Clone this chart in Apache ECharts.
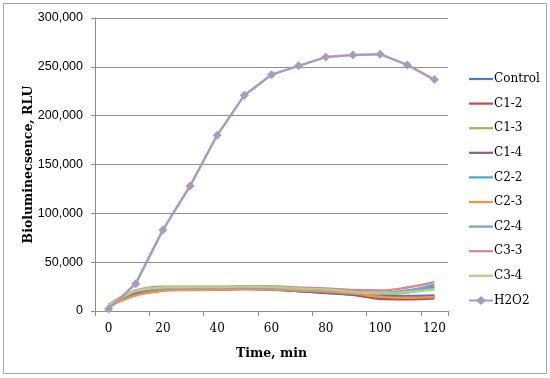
<!DOCTYPE html>
<html><head><meta charset="utf-8">
<script src="https://cdn.jsdelivr.net/npm/echarts@6/dist/echarts.min.js"></script>
<style>html,body{margin:0;padding:0;background:#fff}#c{width:550px;height:378px}</style>
</head><body><div id="c"></div>
<script>
const categories = ['0','10','20','30','40','50','60','70','80','90','100','110','120'];
const seriesNames = ['Control','C1-2','C1-3','C1-4','C2-2','C2-3','C2-4','C3-3','C3-4','H2O2'];
const colors = ['#4A7EBB','#BE4B48','#98B954','#7D60A0','#46AAC5','#F69240','#7B9FCF','#D38A88','#B3CE8A','#A99BBD'];
const control = [5000, 19000, 22000, 22500, 22500, 23000, 22000, 20500, 19000, 17000, 16000, 15500, 16000];
const c12 = [5500, 18000, 21500, 22000, 22000, 22500, 22000, 20500, 19000, 16500, 12500, 12000, 13000];
const c13 = [6000, 20000, 23500, 23500, 23500, 24000, 23500, 22000, 21000, 18500, 17500, 19000, 23500];
const c14 = [5000, 19000, 22500, 22500, 22500, 23000, 22500, 20500, 18500, 17000, 14500, 14000, 15000];
const c22 = [6000, 20000, 23000, 23500, 23500, 24000, 23500, 22000, 20500, 18500, 17500, 20500, 25000];
const c23 = [4500, 16000, 20500, 21500, 22000, 22500, 22000, 21000, 20000, 18000, 14500, 13500, 14500];
const c24 = [5500, 19500, 23000, 23500, 24000, 24000, 23500, 22500, 21500, 19500, 18500, 21000, 27000];
const c33 = [6500, 21000, 25000, 25000, 25000, 25500, 25500, 24000, 23000, 21500, 21000, 24000, 29500];
const c34 = [6000, 20500, 24000, 24500, 24500, 25000, 24500, 23000, 22000, 19500, 18000, 19500, 22000];
const h2o2 = [2000, 28000, 83000, 128000, 180000, 221000, 242000, 251000, 260000, 262000, 263000, 252000, 237000];
const yMax = 300000, yInterval = 50000;

const lineIcon = 'path://M0,0M24,14M0,5.9L24,5.9L24,8.1L0,8.1Z';
const diamondIcon = 'path://M0,0M24,14M0,6L8,6L12,2.5L16,6L24,6L24,8L16,8L12,11.5L8,8L0,8Z';

const allData = [control, c12, c13, c14, c22, c23, c24, c33, c34, h2o2];
const series = allData.map((d, i) => {
  const isH = seriesNames[i] === 'H2O2';
  return {
    name: seriesNames[i], type: 'line', data: d,
    smooth: isH ? false : 0.35,
    symbol: isH ? 'diamond' : 'none',
    symbolSize: 9,
    lineStyle: { width: isH ? 2.5 : 2.4, color: colors[i] },
    itemStyle: { color: colors[i] },
    z: isH ? 5 : 2
  };
});

const chart = echarts.init(document.getElementById('c'), null, { renderer: 'canvas' });
chart.setOption({
  animation: false,
  backgroundColor: '#fff',
  color: colors,
  graphic: [{ type: 'rect', shape: { x: 3.5, y: 3.5, width: 543, height: 370 }, style: { fill: 'none', stroke: '#a6a6a6', lineWidth: 1 } }],
  grid: { left: 95, right: 102, top: 18, bottom: 67 },
  legend: {
    orient: 'vertical', left: 464, top: 67, itemWidth: 24, itemHeight: 14, itemGap: 10.6,
    textStyle: { fontFamily: 'DejaVu Serif', fontSize: 12, color: '#000', padding: [0,0,0,-4] },
    data: seriesNames.map(n => ({ name: n, icon: n === 'H2O2' ? diamondIcon : lineIcon }))
  },
  xAxis: {
    type: 'category', data: categories, boundaryGap: true,
    name: 'Time, min', nameLocation: 'middle', nameGap: 36, nameMoveOverlap: false,
    nameTextStyle: { fontFamily: 'DejaVu Serif', fontWeight: 'bold', fontSize: 12.5, color: '#000' },
    axisLine: { lineStyle: { color: '#8c8c8c', width: 1 } },
    axisTick: { show: true, alignWithLabel: false, length: 5, lineStyle: { color: '#8c8c8c' } },
    axisLabel: { fontFamily: 'DejaVu Serif', fontSize: 12, color: '#000', margin: 12 }
  },
  yAxis: {
    type: 'value', min: 0, max: yMax, interval: yInterval,
    name: 'Bioluminecsence, RLU', nameLocation: 'middle', nameGap: 60, nameMoveOverlap: false,
    nameTextStyle: { fontFamily: 'DejaVu Serif', fontWeight: 'bold', fontSize: 12.5, color: '#000' },
    axisLine: { show: true, lineStyle: { color: '#8c8c8c', width: 1 } },
    axisTick: { show: true, length: 4, lineStyle: { color: '#8c8c8c' } },
    splitLine: { lineStyle: { color: '#8c8c8c', width: 1 } },
    axisLabel: { fontFamily: 'Liberation Sans', fontSize: 12.5, color: '#000', margin: 12,
      formatter: v => v.toLocaleString('en-US') }
  },
  series: series
});
</script></body></html>
